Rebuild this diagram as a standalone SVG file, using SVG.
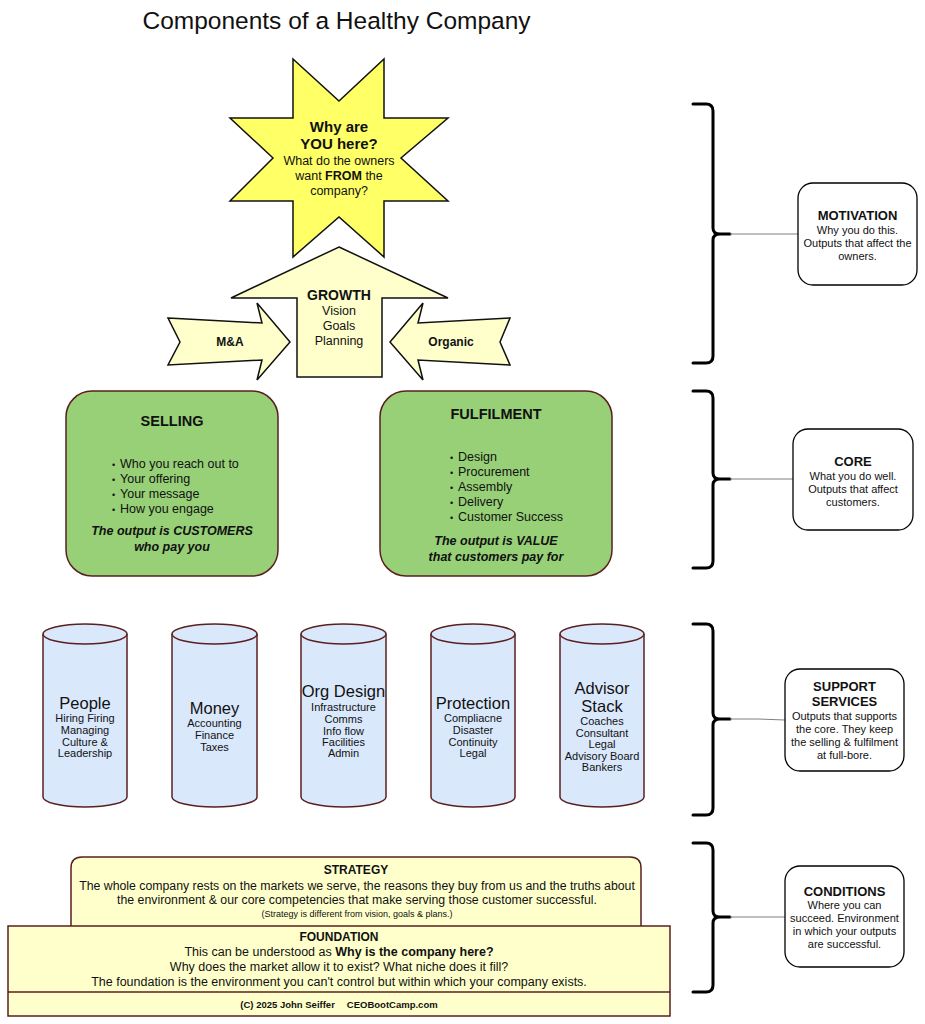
<svg xmlns="http://www.w3.org/2000/svg" width="925" height="1024" viewBox="0 0 925 1024">
<style>
text{font-family:"Liberation Sans",Arial,sans-serif;fill:#111;text-anchor:middle}
.b{font-weight:bold}
.bi{font-weight:bold;font-style:italic}
.t13{font-size:12.5px}
.t11{font-size:11px}
.yel{fill:#ffffcc;stroke:#111;stroke-width:1.5}
.grn{fill:#97d077;stroke:#5a1f1f;stroke-width:1.5}
.cyl{fill:#dae8fc;stroke:#5a1f1f;stroke-width:1.5}
.pale{fill:#ffffcc;stroke:#5a1f1f;stroke-width:1.5}
.brace{fill:none;stroke:#000;stroke-width:3;stroke-linecap:round}
.lbl{fill:#fff;stroke:#000;stroke-width:1.3}
.conn{stroke:#808080;stroke-width:1;fill:none}
.bul{text-anchor:start}
</style>

<text id="title" x="336.5" y="29" style="font-size:24.5px">Components of a Healthy Company</text>

<g id="star">
<path d="M293,59 L339,101 L384,59 L384,118 L448,118 L401,158 L448,201 L384,201 L384,257 L339,217 L293,257 L293,201 L230,201 L273,158 L230,118 L293,118 Z" fill="#ffff66" stroke="#111" stroke-width="1.5"/>
<text x="339" y="132" class="b" style="font-size:15px">Why are</text>
<text x="339" y="149" class="b" style="font-size:15px">YOU here?</text>
<text x="339" y="165" class="t13">What do the owners</text>
<text x="339" y="180" class="t13">want <tspan class="b">FROM</tspan> the</text>
<text x="339" y="195" class="t13">company?</text>
</g>

<g id="growth">
<path d="M339,247 L448,298 L382,298 L382,377 L297,377 L297,298 L231,298 Z" class="yel"/>
<text x="339" y="300" class="b" style="font-size:14px">GROWTH</text>
<text x="339" y="315" class="t13">Vision</text>
<text x="339" y="330" class="t13">Goals</text>
<text x="339" y="345" class="t13">Planning</text>
</g>

<g id="ma">
<path d="M168,318 L262,323 L257,303 L290,342 L257,380 L262,360 L168,365 L180,342 Z" class="yel"/>
<text x="230" y="346" class="b" style="font-size:12px">M&amp;A</text>
</g>

<g id="organic">
<path d="M510,318 L418,323 L423,303 L390,342 L423,380 L418,360 L510,365 L500,342 Z" class="yel"/>
<text x="451" y="346" class="b" style="font-size:12px">Organic</text>
</g>

<g id="selling">
<rect x="66" y="391" width="212" height="185" rx="26" class="grn"/>
<text x="172" y="426" class="b" style="font-size:14.5px">SELLING</text>
<g class="t13">
<text x="112" y="468" class="bul" style="font-size:9px">•</text><text x="120" y="468" class="bul">Who you reach out to</text>
<text x="112" y="483" class="bul" style="font-size:9px">•</text><text x="120" y="483" class="bul">Your offering</text>
<text x="112" y="498" class="bul" style="font-size:9px">•</text><text x="120" y="498" class="bul">Your message</text>
<text x="112" y="513" class="bul" style="font-size:9px">•</text><text x="120" y="513" class="bul">How you engage</text>
</g>
<text x="172" y="535" class="bi t13">The output is CUSTOMERS</text>
<text x="172" y="551" class="bi t13">who pay you</text>
</g>

<g id="fulfilment">
<rect x="380" y="391" width="232" height="185" rx="26" class="grn"/>
<text x="496" y="419" class="b" style="font-size:14.5px">FULFILMENT</text>
<g class="t13">
<text x="450" y="461" class="bul" style="font-size:9px">•</text><text x="458" y="461" class="bul">Design</text>
<text x="450" y="476" class="bul" style="font-size:9px">•</text><text x="458" y="476" class="bul">Procurement</text>
<text x="450" y="491" class="bul" style="font-size:9px">•</text><text x="458" y="491" class="bul">Assembly</text>
<text x="450" y="506" class="bul" style="font-size:9px">•</text><text x="458" y="506" class="bul">Delivery</text>
<text x="450" y="521" class="bul" style="font-size:9px">•</text><text x="458" y="521" class="bul">Customer Success</text>
</g>
<text x="496" y="545" class="bi t13">The output is VALUE</text>
<text x="496" y="561" class="bi t13">that customers pay for</text>
</g>

<g id="people">
<path d="M43,634 V797 A42,10 0 0 0 127,797 V634" class="cyl"/>
<ellipse cx="85" cy="634" rx="42" ry="10" class="cyl"/>
<text x="85" y="709" style="font-size:16.5px">People</text>
<text x="85" y="722" class="t11">Hiring Firing</text>
<text x="85" y="734" class="t11">Managing</text>
<text x="85" y="746" class="t11">Culture &amp;</text>
<text x="85" y="757" class="t11">Leadership</text>
</g>

<g id="money">
<path d="M172,634 V797 A42.5,10 0 0 0 257,797 V634" class="cyl"/>
<ellipse cx="214.5" cy="634" rx="42.5" ry="10" class="cyl"/>
<text x="214.5" y="714" style="font-size:16.5px">Money</text>
<text x="214.5" y="727" class="t11">Accounting</text>
<text x="214.5" y="739" class="t11">Finance</text>
<text x="214.5" y="751" class="t11">Taxes</text>
</g>

<g id="orgdesign">
<path d="M301,634 V797 A42.5,10 0 0 0 386,797 V634" class="cyl"/>
<ellipse cx="343.5" cy="634" rx="42.5" ry="10" class="cyl"/>
<text x="343.5" y="697" style="font-size:16.5px">Org Design</text>
<text x="343.5" y="711" class="t11">Infrastructure</text>
<text x="343.5" y="723" class="t11">Comms</text>
<text x="343.5" y="735" class="t11">Info flow</text>
<text x="343.5" y="746" class="t11">Facilities</text>
<text x="343.5" y="757" class="t11">Admin</text>
</g>

<g id="protection">
<path d="M431,634 V797 A42,10 0 0 0 515,797 V634" class="cyl"/>
<ellipse cx="473" cy="634" rx="42" ry="10" class="cyl"/>
<text x="473" y="709" style="font-size:16.5px">Protection</text>
<text x="473" y="722" class="t11">Compliacne</text>
<text x="473" y="734" class="t11">Disaster</text>
<text x="473" y="746" class="t11">Continuity</text>
<text x="473" y="757" class="t11">Legal</text>
</g>

<g id="advisor">
<path d="M560,634 V797 A42,10 0 0 0 644,797 V634" class="cyl"/>
<ellipse cx="602" cy="634" rx="42" ry="10" class="cyl"/>
<text x="602" y="694" style="font-size:16.5px">Advisor</text>
<text x="602" y="712" style="font-size:16.5px">Stack</text>
<text x="602" y="725" class="t11">Coaches</text>
<text x="602" y="737" class="t11">Consultant</text>
<text x="602" y="748" class="t11">Legal</text>
<text x="602" y="760" class="t11">Advisory Board</text>
<text x="602" y="771" class="t11">Bankers</text>
</g>

<g id="strategy">
<path d="M71,926 V868 Q71,857 82,857 H630 Q641,857 641,868 V926" class="pale"/>
<text x="356" y="874" class="b" style="font-size:12px">STRATEGY</text>
<text x="357" y="890" style="font-size:12.3px">The whole company rests on the markets we serve, the reasons they buy from us and the truths about</text>
<text x="357" y="904" style="font-size:12.3px">the environment &amp; our core competencies that make serving those customer successful.</text>
<text x="357" y="917" style="font-size:9px">(Strategy is different from vision, goals &amp; plans.)</text>
</g>

<g id="foundation">
<rect x="8" y="926" width="662" height="90" class="pale"/>
<line x1="8" y1="992" x2="670" y2="992" stroke="#5a1f1f" stroke-width="1.5"/>
<text x="339" y="941" class="b" style="font-size:12px">FOUNDATION</text>
<text x="339" y="956" class="t13">This can be understood as <tspan class="b">Why is the company here?</tspan></text>
<text x="339" y="971" class="t13">Why does the market allow it to exist? What niche does it fill?</text>
<text x="339" y="986" class="t13">The foundation is the environment you can't control but within which your company exists.</text>
<text x="339" y="1008" class="b" style="font-size:9.5px">(C) 2025 John Seiffer<tspan dx="12">CEOBootCamp.com</tspan></text>
</g>

<g id="braces">
<path class="brace" d="M693,104 H706 Q713,104 713,111 V228 Q713,234 720,234 H730 M720,234 Q713,234 713,240 V356 Q713,363 706,363 H693"/>
<path class="brace" d="M693,391 H706 Q713,391 713,398 V473 Q713,479 720,479 H730 M720,479 Q713,479 713,485 V561 Q713,568 706,568 H693"/>
<path class="brace" d="M693,624 H706 Q713,624 713,631 V713 Q713,719 720,719 H730 M720,719 Q713,719 713,725 V808 Q713,815 706,815 H693"/>
<path class="brace" d="M693,843 H706 Q713,843 713,850 V911 Q713,917 720,917 H730 M720,917 Q713,917 713,923 V985 Q713,992 706,992 H693"/>
</g>

<g id="connectors">
<line class="conn" x1="730" y1="234" x2="798" y2="234"/>
<line class="conn" x1="730" y1="479" x2="793" y2="479"/>
<polyline class="conn" points="730,719 758,719 785,720"/>
<line class="conn" x1="730" y1="917" x2="785" y2="917"/>
</g>

<g id="motivation">
<rect x="798" y="183" width="119" height="102" rx="15" class="lbl"/>
<text x="857.5" y="220" class="b" style="font-size:13px">MOTIVATION</text>
<text x="857.5" y="234" class="t11">Why you do this.</text>
<text x="857.5" y="247" class="t11">Outputs that affect the</text>
<text x="857.5" y="260" class="t11">owners.</text>
</g>

<g id="core">
<rect x="793" y="429" width="120" height="101" rx="15" class="lbl"/>
<text x="853" y="466" class="b" style="font-size:13px">CORE</text>
<text x="853" y="480" class="t11">What you do well.</text>
<text x="853" y="493" class="t11">Outputs that affect</text>
<text x="853" y="506" class="t11">customers.</text>
</g>

<g id="support">
<rect x="785" y="669" width="119" height="102" rx="15" class="lbl"/>
<text x="844.5" y="691" class="b" style="font-size:13px">SUPPORT</text>
<text x="844.5" y="706" class="b" style="font-size:13px">SERVICES</text>
<text x="844.5" y="720" class="t11">Outputs that supports</text>
<text x="844.5" y="733" class="t11">the core. They keep</text>
<text x="844.5" y="746" class="t11">the selling &amp; fulfilment</text>
<text x="844.5" y="759" class="t11">at full-bore.</text>
</g>

<g id="conditions">
<rect x="785" y="866" width="119" height="101" rx="15" class="lbl"/>
<text x="844.5" y="896" class="b" style="font-size:13px">CONDITIONS</text>
<text x="844.5" y="909" class="t11">Where you can</text>
<text x="844.5" y="922" class="t11">succeed. Environment</text>
<text x="844.5" y="935" class="t11">in which your outputs</text>
<text x="844.5" y="948" class="t11">are successful.</text>
</g>
</svg>
